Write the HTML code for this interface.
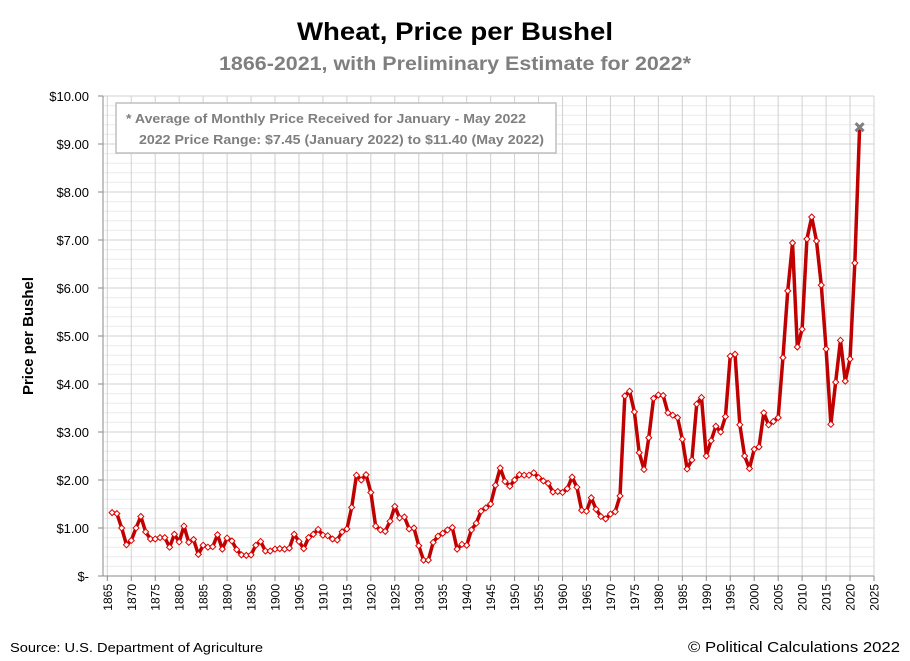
<!DOCTYPE html>
<html><head><meta charset="utf-8"><style>
html,body{margin:0;padding:0;background:#fff;}
svg{display:block;font-family:"Liberation Sans",sans-serif;}
</style></head><body>
<svg id="chart" width="910" height="661" viewBox="0 0 910 661">
<text x="455" y="40" text-anchor="middle" font-size="25" font-weight="bold" fill="#000" textLength="316" lengthAdjust="spacingAndGlyphs">Wheat, Price per Bushel</text>
<text x="455" y="70" text-anchor="middle" font-size="19" font-weight="bold" fill="#7f7f7f" textLength="472" lengthAdjust="spacingAndGlyphs">1866-2021, with Preliminary Estimate for 2022*</text>
<g id="grid"></g>
<g id="axes"></g>
<rect x="116" y="103" width="440" height="50" fill="#fff" stroke="#bfbfbf" stroke-width="1.5"/>
<text x="126" y="123" font-size="13" font-weight="bold" fill="#7f7f7f" textLength="400" lengthAdjust="spacingAndGlyphs">* Average of Monthly Price Received for January - May 2022</text>
<text x="139" y="144" font-size="13" font-weight="bold" fill="#7f7f7f" textLength="405" lengthAdjust="spacingAndGlyphs">2022 Price Range: $7.45 (January 2022) to $11.40 (May 2022)</text>
<g id="series"></g>
<text transform="translate(33,336) rotate(-90)" text-anchor="middle" font-size="15" font-weight="bold" fill="#000" textLength="118" lengthAdjust="spacingAndGlyphs">Price per Bushel</text>
<text x="10" y="652" font-size="13" fill="#000" textLength="253" lengthAdjust="spacingAndGlyphs">Source: U.S. Department of Agriculture</text>
<text x="900" y="652" text-anchor="end" font-size="15" fill="#000" textLength="212" lengthAdjust="spacingAndGlyphs">© Political Calculations 2022</text>
</svg>
<script>
const startYear = 1866;
const prices = [1.32,1.30,1.00,0.65,0.74,1.00,1.24,0.92,0.77,0.77,0.80,0.80,0.60,0.87,0.71,1.04,0.70,0.76,0.45,0.64,
0.60,0.61,0.86,0.56,0.79,0.73,0.55,0.44,0.43,0.44,0.64,0.72,0.52,0.52,0.56,0.57,0.56,0.58,0.87,0.72,
0.57,0.80,0.87,0.97,0.85,0.84,0.77,0.75,0.92,0.98,1.43,2.10,2.00,2.11,1.74,1.04,0.96,0.93,1.14,1.45,
1.21,1.23,0.98,1.00,0.63,0.33,0.33,0.70,0.83,0.89,0.96,1.01,0.56,0.66,0.64,0.96,1.10,1.35,1.42,1.50,
1.89,2.25,1.97,1.87,2.00,2.11,2.10,2.10,2.15,2.05,1.98,1.93,1.75,1.76,1.74,1.82,2.06,1.85,1.37,1.35,
1.63,1.39,1.24,1.19,1.29,1.34,1.67,3.75,3.85,3.42,2.57,2.22,2.88,3.70,3.77,3.76,3.40,3.35,3.30,2.85,
2.23,2.42,3.58,3.72,2.50,2.82,3.12,3.00,3.32,4.58,4.62,3.15,2.50,2.24,2.64,2.69,3.40,3.15,3.22,3.30,
4.55,5.94,6.94,4.77,5.14,7.02,7.48,6.98,6.06,4.73,3.16,4.04,4.91,4.06,4.52,6.52];
const estimateYear = [2022];
const estimateValue = [9.35];
const yTicks = [0,1,2,3,4,5,6,7,8,9,10];
const yTickLabels = ["$-","$1.00","$2.00","$3.00","$4.00","$5.00","$6.00","$7.00","$8.00","$9.00","$10.00"];
const xTicks = [1865,1870,1875,1880,1885,1890,1895,1900,1905,1910,1915,1920,1925,1930,1935,1940,1945,1950,1955,1960,1965,1970,1975,1980,1985,1990,1995,2000,2005,2010,2015,2020,2025];

const NS="http://www.w3.org/2000/svg";
const X0=107.3, X1=874, Y0=576, Y1=96;
const xs=y=>X0+(y-1865)*(X1-X0)/160;
const ys=v=>Y0-v*(Y0-Y1)/10;
function mk(tag,attrs,parent){const e=document.createElementNS(NS,tag);for(const k in attrs)e.setAttribute(k,attrs[k]);parent.appendChild(e);return e;}
const grid=document.getElementById('grid'), axes=document.getElementById('axes'), ser=document.getElementById('series');
for(let v=0.2;v<10.01;v+=0.2){
  const major=Math.abs(v-Math.round(v))<0.01;
  const l=mk('line',{x1:103,x2:X1,y1:ys(v),y2:ys(v),stroke:major?'#d0d0d0':'#ececec','stroke-width':1},grid);
  
  
}
xTicks.forEach(t=>{
  const l=mk('line',{x1:xs(t),x2:xs(t),y1:Y1,y2:Y0,stroke:'#d0d0d0','stroke-width':1},grid);
  
  
  const tk=mk('line',{x1:xs(t),x2:xs(t),y1:Y0,y2:Y0+5,stroke:'#888'},axes);
  
  
  const tx=mk('text',{transform:`translate(${xs(t)+4.5},${Y0+8}) rotate(-90)`,'text-anchor':'end','font-size':12,fill:'#000'},axes);
  tx.textContent=t;
  
  
});
yTicks.forEach((v,i)=>{
  const tk=mk('line',{x1:98,x2:103,y1:ys(v),y2:ys(v),stroke:'#888'},axes);
  
  
  const tx=mk('text',{x:89,y:ys(v)+5,'text-anchor':'end','font-size':13,fill:'#000'},axes);
  tx.textContent=yTickLabels[i];
  
  
});
const al=mk('line',{x1:103,x2:103,y1:Y1,y2:Y0,stroke:'#888'},axes);


const bl=mk('line',{x1:103,x2:X1,y1:Y0,y2:Y0,stroke:'#888'},axes);


const pts=prices.map((p,i)=>[xs(startYear+i),ys(p)]);
pts.push([xs(estimateYear[0]),ys(estimateValue[0])]);
const line=mk('polyline',{points:pts.map(p=>p.join(',')).join(' '),fill:'none',stroke:'#c00000','stroke-width':3.5,'stroke-linejoin':'round'},ser);


prices.forEach((p,i)=>{
  const cx=xs(startYear+i), cy=ys(p), r=3;
  const m=mk('polygon',{points:`${cx},${cy-r} ${cx+r},${cy} ${cx},${cy+r} ${cx-r},${cy}`,fill:'#fff',stroke:'#e00000','stroke-width':1},ser);
  
  
});
const ex=xs(estimateYear[0]), ey=ys(estimateValue[0]);
const em=mk('path',{d:`M${ex-4},${ey-4}L${ex+4},${ey+4}M${ex-4},${ey+4}L${ex+4},${ey-4}`,stroke:'#7f7f7f','stroke-width':3},ser);


</script>
</body></html>
